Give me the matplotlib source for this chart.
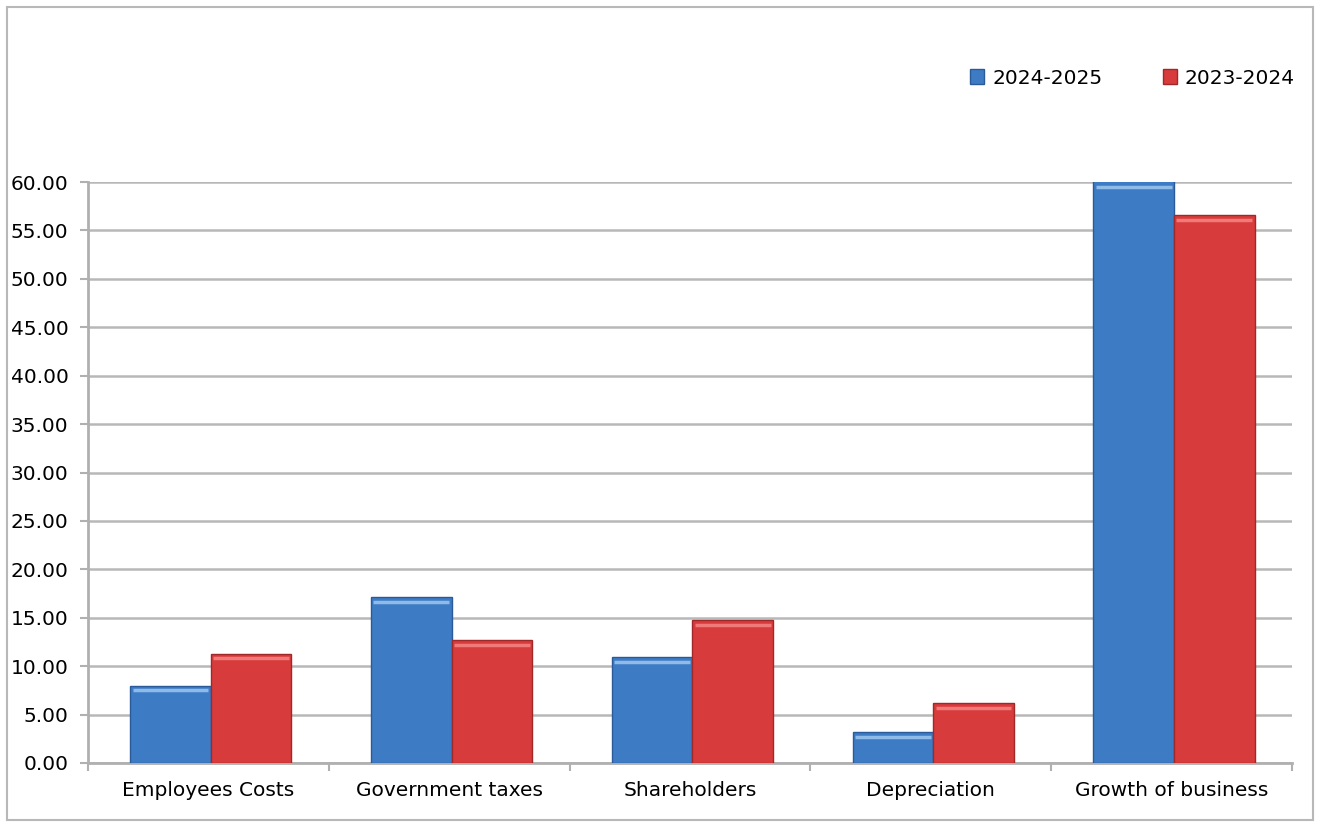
import matplotlib.pyplot as plt
import numpy as np
from matplotlib.patches import Rectangle, Patch

# data
categories = ['Employees Costs', 'Government taxes', 'Shareholders', 'Depreciation', 'Growth of business']
fy_2024_25 = [8.0, 17.1, 10.9, 3.2, 60.8]
fy_2023_24 = [11.3, 12.7, 14.8, 6.2, 56.6]
yticks = np.arange(0, 61, 5)

blue = '#3d7cc4'
blue_edge = '#2a5a98'
red = '#d83b3b'
red_edge = '#a02828'

fig = plt.figure(figsize=(13.19, 8.27), dpi=100)
fig.patches.append(Rectangle((7 / 1319, 7 / 827), 1306 / 1319, 813 / 827,
                             transform=fig.transFigure, fill=False,
                             edgecolor='#b8b8b8', linewidth=1.5))
ax = fig.add_axes([88 / 1319, 1 - 763 / 827, 1204 / 1319, 581 / 827])

x = np.arange(len(categories))
w = 0.335
b1 = ax.bar(x - w / 2 + 0.01, fy_2024_25, w, color=blue, edgecolor=blue_edge, linewidth=1, zorder=3)
b2 = ax.bar(x + w / 2 + 0.01, fy_2023_24, w, color=red, edgecolor=red_edge, linewidth=1, zorder=3)

# lighter cap on each bar, a hint of the bevel look
for bars, cap in ((b1, '#8fbbe8'), (b2, '#f07a7a')):
    for r in bars:
        top = min(r.get_height(), 60)
        ax.plot([r.get_x() + 0.01, r.get_x() + r.get_width() - 0.01], [top - 0.5, top - 0.5],
                color=cap, linewidth=2.5, zorder=4, solid_capstyle='butt')

ax.set_xlim(-0.5, len(categories) - 0.5)
ax.set_ylim(0, 60)
ax.set_yticks(yticks)
ax.set_yticklabels([f'{v:.2f}' for v in yticks], fontsize=14.5)
ax.set_xticks(x)
ax.set_xticklabels(categories, fontsize=14.5)
ax.set_xticks(np.arange(-0.5, len(categories)), minor=True)
ax.tick_params(axis='x', which='major', length=0, pad=13)
ax.tick_params(axis='x', which='minor', length=6, color='#b0b0b0', width=1.5)
ax.tick_params(axis='y', length=6, color='#b0b0b0', width=1.5, pad=8)

ax.grid(axis='y', color='#b8b8b8', linewidth=1.8, zorder=0)
for s in ('top', 'right'):
    ax.spines[s].set_visible(False)
ax.spines['left'].set_color('#b0b0b0')
ax.spines['left'].set_linewidth(2)
ax.spines['bottom'].set_color('#b0b0b0')
ax.spines['bottom'].set_linewidth(2)

handles = [Patch(facecolor=blue, edgecolor=blue_edge, label='2024-2025'),
           Patch(facecolor=red, edgecolor=red_edge, label='2023-2024')]
fig.legend(handles=handles, loc='center right', bbox_to_anchor=(1313 / 1319, 1 - 78 / 827),
           ncol=2, frameon=False, fontsize=14.5, handlelength=0.7, handleheight=0.7,
           handletextpad=0.4, columnspacing=3.0)

plt.savefig('out.png', dpi=100)
